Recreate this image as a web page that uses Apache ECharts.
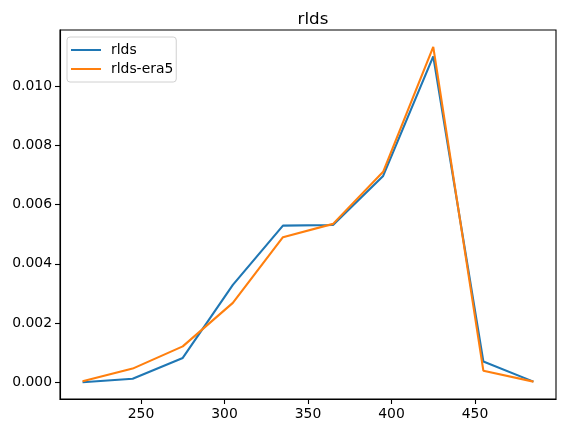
<!DOCTYPE html>
<html>
<head>
<meta charset="utf-8">
<script src="https://cdn.jsdelivr.net/npm/echarts@6/dist/echarts.min.js"></script>
<style>
  html, body { margin: 0; padding: 0; background: #fff; }
  #chart { width: 565px; height: 433px; }
</style>
</head>
<body>
<div id="chart"></div>
<script>
// data
const xValues = [215, 245, 275, 305, 335, 365, 395, 425, 455, 485];
const rlds = [0.0000, 0.000115, 0.00082, 0.00329, 0.00529, 0.00531, 0.00697, 0.01101, 0.00070, 0.00002];
const rldsEra5 = [0.00003, 0.00046, 0.00121, 0.00268, 0.00490, 0.00535, 0.00711, 0.01133, 0.00039, 0.00002];
const xTicks = [250, 300, 350, 400, 450];
const yTicks = [0, 0.002, 0.004, 0.006, 0.008, 0.010];

const font = 'DejaVu Sans';
let chart = echarts.init(document.getElementById('chart'));

function pairs(ys) {
  return xValues.map((x, i) => [x, ys[i]]);
}

chart.setOption({
  animation: false,
  title: {
    text: 'rlds',
    left: 308,
    top: 6,
    textAlign: 'center',
    textStyle: { fontFamily: font, fontSize: 16.7, fontWeight: 'normal', color: '#000' }
  },
  legend: {
    orient: 'vertical',
    left: 67,
    top: 37,
    padding: [6, 3, 6, 4],
    itemGap: 5,
    itemWidth: 30,
    itemHeight: 2,
    icon: 'rect',
    backgroundColor: '#fff',
    borderColor: '#d0d0d0',
    borderWidth: 1,
    borderRadius: 3,
    textStyle: { fontFamily: font, fontSize: 13.9, color: '#000', padding: [0, 0, 0, 5] },
    data: ['rlds', 'rlds-era5']
  },
  grid: {
    left: 60, right: 9, top: 30, bottom: 34,
    show: true, borderColor: '#000', borderWidth: 1.1, backgroundColor: '#fff'
  },
  xAxis: {
    type: 'value',
    min: 201.5,
    max: 498.5,
    splitLine: { show: false },
    axisLine: { show: true, onZero: false, lineStyle: { color: '#000', width: 1.1 } },
    axisTick: { show: true, inside: false, length: 5, customValues: xTicks, lineStyle: { color: '#000', width: 1.1 } },
    axisLabel: { customValues: xTicks, fontFamily: font, fontSize: 13.9, color: '#000', margin: 8 }
  },
  yAxis: {
    type: 'value',
    min: -0.000567,
    max: 0.0119,
    splitLine: { show: false },
    axisLine: { show: true, onZero: false, lineStyle: { color: '#000', width: 1.1 } },
    axisTick: { show: true, inside: false, length: 5, customValues: yTicks, lineStyle: { color: '#000', width: 1.1 } },
    axisLabel: {
      customValues: yTicks, fontFamily: font, fontSize: 13.9, color: '#000', margin: 8,
      formatter: v => v.toFixed(3)
    }
  },
  series: [
    {
      name: 'rlds', type: 'line', data: pairs(rlds), symbol: 'none',
      color: '#1f77b4', lineStyle: { width: 2.1, color: '#1f77b4' }
    },
    {
      name: 'rlds-era5', type: 'line', data: pairs(rldsEra5), symbol: 'none',
      color: '#ff7f0e', lineStyle: { width: 2.1, color: '#ff7f0e' }
    }
  ]
});
</script>
</body>
</html>
